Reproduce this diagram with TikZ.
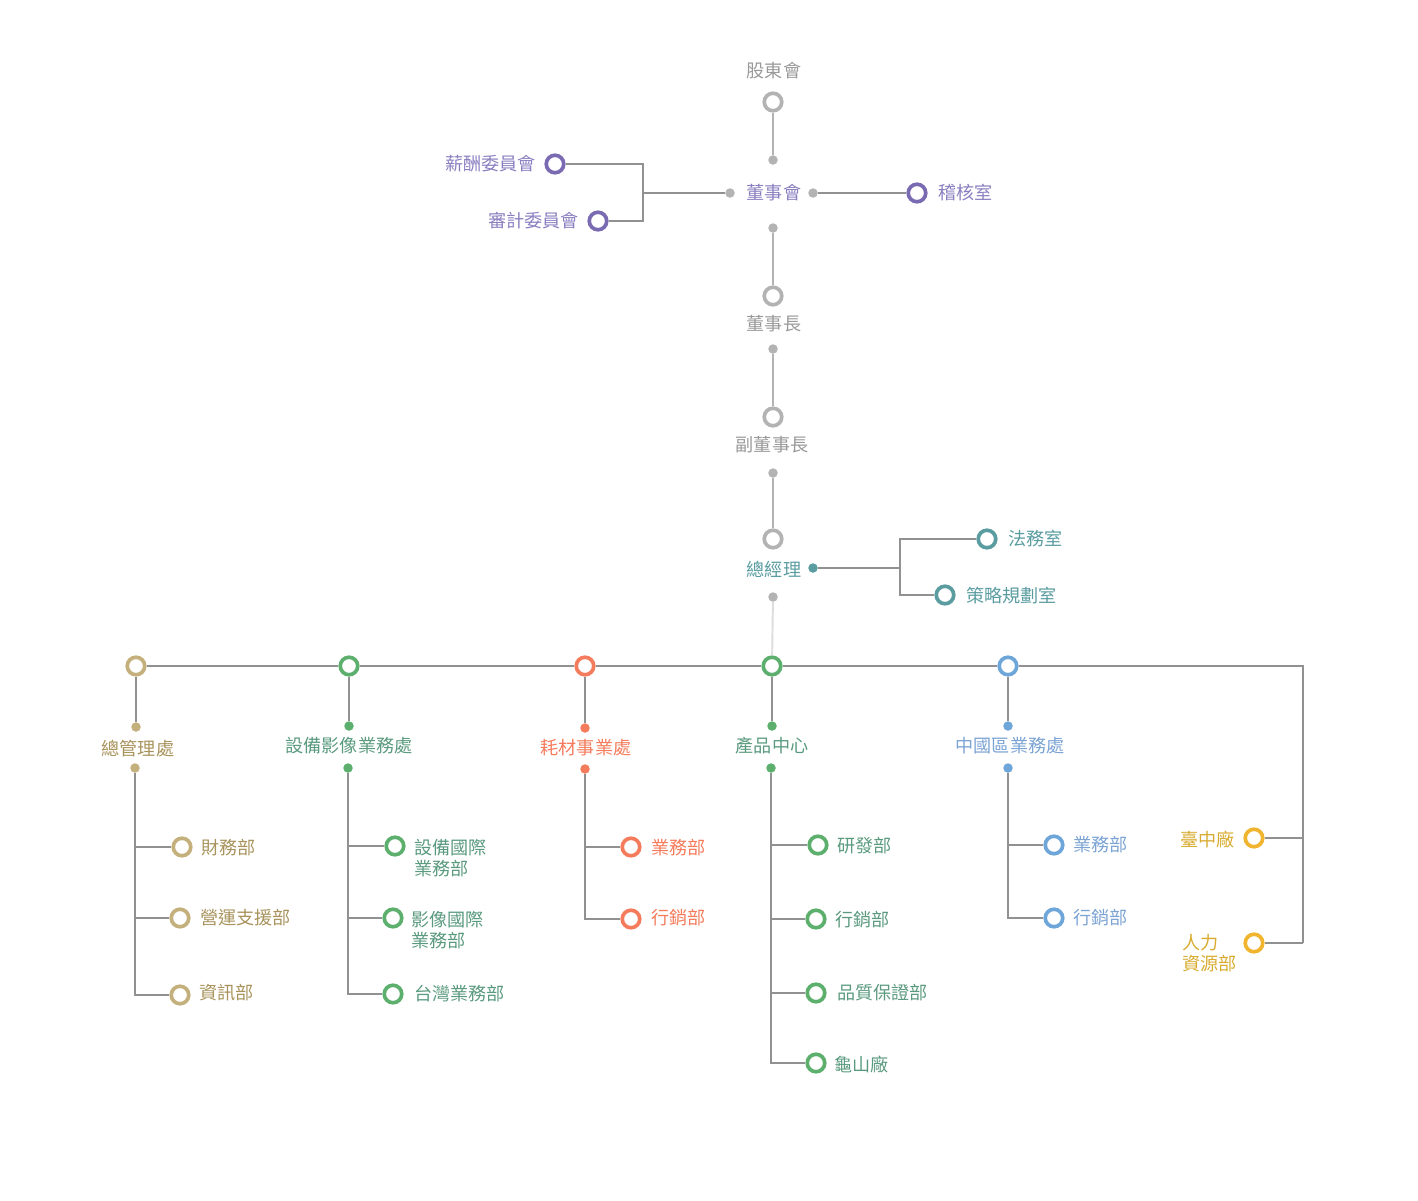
\documentclass[tikz,border=0pt]{standalone}
\usepackage{fontspec}
\newfontfamily\cjk{Noto Sans CJK TC}
\definecolor{topgray}{HTML}{B3B3B3}
\definecolor{txtgray}{HTML}{999999}
\definecolor{linegray}{HTML}{919191}
\definecolor{palegray}{HTML}{DDDDDD}
\definecolor{violet}{HTML}{7A6AB2}
\definecolor{violettxt}{HTML}{8A7EC0}
\definecolor{teal}{HTML}{5A9CA0}
\definecolor{tan}{HTML}{C4B07C}
\definecolor{tantxt}{HTML}{A8935C}
\definecolor{leaf}{HTML}{5DAF6D}
\definecolor{leaftxt}{HTML}{5A9A7E}
\definecolor{coral}{HTML}{F47B5B}
\definecolor{sky}{HTML}{6EA6D9}
\definecolor{skytxt}{HTML}{7BA3D3}
\definecolor{amber}{HTML}{F0B42E}
\definecolor{ambertxt}{HTML}{D8AB30}
\tikzset{
  ring/.style={circle, draw=#1, line width=2.1pt, fill=white, minimum size=0.35cm, inner sep=0pt},
  dot/.style={circle, fill=#1, minimum size=0.19cm, inner sep=0pt},
  lbl/.style={text=#1, font=\cjk\fontsize{10.3}{12}\selectfont, inner sep=1pt, align=left},
  trunk/.style={draw=topgray, line width=1.1pt},
  branch/.style={draw=linegray, line width=0.6pt},
}
\begin{document}
\begin{tikzpicture}[x=0.02cm, y=-0.02cm]
\useasboundingbox (0,0) rectangle (1418,1201);

% top of the chart
\node[lbl=txtgray] (tsh) at (774,71) {股東會};
\node[ring=topgray] (sh) at (773,102) {};
\node[dot=topgray] (bdT) at (773,160) {};
\node[lbl=violettxt] (tbd) at (774,193) {董事會};
\node[dot=topgray] (bdL) at (730,193) {};
\node[dot=topgray] (bdR) at (813,193) {};
\node[dot=topgray] (bdB) at (773,228) {};
\node[ring=violet] (pay) at (555,164) {};
\node[lbl=violettxt, anchor=east] (tpay) at (538,164) {薪酬委員會};
\node[ring=violet] (aud) at (598,221) {};
\node[lbl=violettxt, anchor=east] (taud) at (581,221) {審計委員會};
\node[ring=violet] (ia) at (917,193) {};
\node[lbl=violettxt, anchor=west] (tia) at (936,193) {稽核室};
\node[ring=topgray] (ch) at (773,296) {};
\node[lbl=txtgray] (tch) at (774,324) {董事長};
\node[dot=topgray] (chB) at (773,349) {};
\node[ring=topgray] (vc) at (773,417) {};
\node[lbl=txtgray] (tvc) at (772,445) {副董事長};
\node[dot=topgray] (vcB) at (773,473) {};
\node[ring=topgray] (gm) at (773,539) {};
\node[lbl=teal] (tgm) at (774,569) {總經理};
\node[dot=teal] (gmR) at (813,568) {};
\node[dot=topgray] (gmB) at (773,597) {};
\node[ring=teal] (lg) at (987,539) {};
\node[lbl=teal, anchor=west] (tlg) at (1006,539) {法務室};
\node[ring=teal] (sp) at (945,595) {};
\node[lbl=teal, anchor=west] (tsp) at (964,596) {策略規劃室};

\coordinate (lk) at (643,193);
\coordinate (gk) at (900,568);
\draw[trunk] (sh) -- (bdT);
\draw[trunk] (bdB) -- (ch);
\draw[trunk] (chB) -- (vc);
\draw[trunk] (vcB) -- (gm);
\draw[branch] (pay) -| (lk) |- (aud);
\draw[branch] (lk) -- (bdL);
\draw[branch] (bdR) -- (ia);
\draw[branch] (gmR) -- (gk);
\draw[branch] (lg) -| (gk) |- (sp);

% divisions
\node[ring=tan] (ga) at (136,666) {};
\node[ring=leaf] (eq) at (349,666) {};
\node[ring=coral] (cs) at (585,666) {};
\node[ring=leaf] (pc) at (772,666) {};
\node[ring=sky] (cn) at (1008,666) {};
\draw[draw=palegray, line width=1.1pt] (gmB) -- (pc);
\coordinate (re) at (1303,943);
\coordinate (rt) at (1303,838);
\draw[branch] (ga) -- (eq) -- (cs) -- (pc) -- (cn) -| (re);

\node[dot=tan] (gaA) at (136,727) {};
\node[lbl=tantxt] (tga) at (138,749) {總管理處};
\node[dot=tan] (gaB) at (135,768) {};
\node[dot=leaf] (eqA) at (349,726) {};
\node[lbl=leaftxt] (teq) at (349,746) {設備影像業務處};
\node[dot=leaf] (eqB) at (348,768) {};
\node[dot=coral] (csA) at (585,728) {};
\node[lbl=coral] (tcs) at (586,748) {耗材事業處};
\node[dot=coral] (csB) at (585,769) {};
\node[dot=leaf] (pcA) at (772,726) {};
\node[lbl=leaftxt] (tpc) at (772,746) {產品中心};
\node[dot=leaf] (pcB) at (771,768) {};
\node[dot=sky] (cnA) at (1008,726) {};
\node[lbl=skytxt] (tcn) at (1010,746) {中國區業務處};
\node[dot=sky] (cnB) at (1008,768) {};
\draw[branch] (ga) -- (gaA);
\draw[branch] (eq) -- (eqA);
\draw[branch] (cs) -- (csA);
\draw[branch] (pc) -- (pcA);
\draw[branch] (cn) -- (cnA);

% departments
\node[ring=tan] (fi) at (182,847) {};
\node[lbl=tantxt, anchor=west] (tfi) at (199,848) {財務部};
\node[ring=tan] (op) at (180,918) {};
\node[lbl=tantxt, anchor=west] (top) at (198,918) {營運支援部};
\node[ring=tan] (it) at (180,995) {};
\node[lbl=tantxt, anchor=west] (tit) at (197,993) {資訊部};
\draw[branch] (gaB) |- (fi);
\draw[branch] (gaB) |- (op);
\draw[branch] (gaB) |- (it);

\node[ring=leaf] (ei) at (395,846) {};
\node[lbl=leaftxt, anchor=west] (tei) at (412,858) {設備國際\\業務部};
\node[ring=leaf] (ii) at (393,918) {};
\node[lbl=leaftxt, anchor=west] (tii) at (409,930) {影像國際\\業務部};
\node[ring=leaf] (tw) at (393,994) {};
\node[lbl=leaftxt, anchor=west] (ttw) at (412,994) {台灣業務部};
\draw[branch] (eqB) |- (ei);
\draw[branch] (eqB) |- (ii);
\draw[branch] (eqB) |- (tw);

\node[ring=coral] (cs1) at (631,847) {};
\node[lbl=coral, anchor=west] (tcs1) at (649,848) {業務部};
\node[ring=coral] (cs2) at (631,919) {};
\node[lbl=coral, anchor=west] (tcs2) at (649,918) {行銷部};
\draw[branch] (csB) |- (cs1);
\draw[branch] (csB) |- (cs2);

\node[ring=leaf] (rd) at (818,845) {};
\node[lbl=leaftxt, anchor=west] (trd) at (835,846) {研發部};
\node[ring=leaf] (mk) at (816,919) {};
\node[lbl=leaftxt, anchor=west] (tmk) at (833,920) {行銷部};
\node[ring=leaf] (qa) at (816,993) {};
\node[lbl=leaftxt, anchor=west] (tqa) at (835,993) {品質保證部};
\node[ring=leaf] (gs) at (816,1063) {};
\node[lbl=leaftxt, anchor=west] (tgs) at (832,1064) {龜山廠};
\draw[branch] (pcB) |- (rd);
\draw[branch] (pcB) |- (mk);
\draw[branch] (pcB) |- (qa);
\draw[branch] (pcB) |- (gs);

\node[ring=sky] (cn1) at (1054,845) {};
\node[lbl=skytxt, anchor=west] (tcn1) at (1071,845) {業務部};
\node[ring=sky] (cn2) at (1054,918) {};
\node[lbl=skytxt, anchor=west] (tcn2) at (1071,918) {行銷部};
\draw[branch] (cnB) |- (cn1);
\draw[branch] (cnB) |- (cn2);

\node[ring=amber] (tc) at (1254,838) {};
\node[lbl=ambertxt, anchor=east] (ttc) at (1237,839) {臺中廠};
\node[ring=amber] (hr) at (1254,943) {};
\node[lbl=ambertxt, anchor=west] (thr) at (1180,953) {人力\\資源部};
\draw[branch] (tc) -- (rt);
\draw[branch] (re) -- (hr);
\end{tikzpicture}
\end{document}
